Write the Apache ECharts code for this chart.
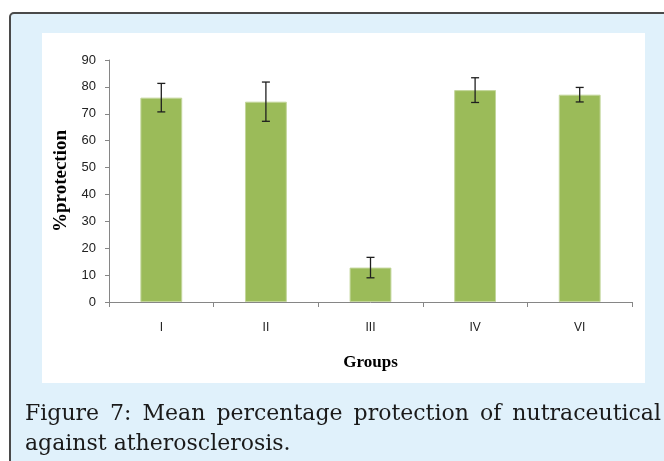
<!DOCTYPE html>
<html>
<head>
<meta charset="utf-8">
<script src="https://cdn.jsdelivr.net/npm/echarts@6/dist/echarts.min.js"></script>
<style>
  html, body { margin: 0; padding: 0; background: #ffffff; }
  #chart { width: 664px; height: 461px; }
</style>
</head>
<body>
<div id="chart"></div>
<script>
// Groups and mean % protection with error-bar half-widths
const groups = ['I', 'II', 'III', 'IV', 'VI'];
const meanProtection = [76.0, 74.5, 12.8, 78.8, 77.1];
const errorHalf = [5.3, 7.3, 3.8, 4.6, 2.7];
const yTicks = { min: 0, max: 90, interval: 10 };

const captionLine1 = 'Figure 7: Mean percentage protection of nutraceutical';
const captionLine2 = 'against atherosclerosis.';

const captionFont = '22px "DejaVu Serif"';
const measureCtx = document.createElement('canvas').getContext('2d');
measureCtx.font = captionFont;

// Lay out a justified line as separate words spread between two x edges
function justifiedWords(line, x0, x1, y) {
  const words = line.split(' ');
  const widths = words.map(w => measureCtx.measureText(w).width);
  const total = widths.reduce((a, b) => a + b, 0);
  const gap = (x1 - x0 - total) / (words.length - 1);
  let x = x0;
  return words.map((w, i) => {
    const el = {
      type: 'text', x: x, y: y,
      style: { text: w, font: captionFont, fill: '#1a1a1a', verticalAlign: 'top' }
    };
    x += widths[i] + gap;
    return el;
  });
}

const chart = echarts.init(document.getElementById('chart'), null, { renderer: 'canvas' });

const errorData = groups.map((g, i) => [i, meanProtection[i] - errorHalf[i], meanProtection[i] + errorHalf[i]]);

chart.setOption({
  animation: false,
  graphic: [
    {
      type: 'rect', z: -10, silent: true,
      shape: { x: 10, y: 13, width: 680, height: 470, r: 4 },
      style: { fill: '#e0f1fb', stroke: '#4a4a4a', lineWidth: 2 }
    },
    {
      type: 'rect', z: -9, silent: true,
      shape: { x: 42, y: 33, width: 603, height: 350 },
      style: { fill: '#ffffff' }
    },
    ...justifiedWords(captionLine1, 25, 661, 403),
    {
      type: 'text', x: 25, y: 433,
      style: { text: captionLine2, font: captionFont, fill: '#1a1a1a', verticalAlign: 'top' }
    }
  ],
  grid: { left: 109, right: 32, top: 60, bottom: 159 },
  xAxis: {
    type: 'category',
    data: groups,
    name: 'Groups',
    nameLocation: 'middle',
    nameGap: 52,
    nameTextStyle: { fontFamily: 'Liberation Serif', fontWeight: 'bold', fontSize: 17, color: '#000' },
    axisLine: { lineStyle: { color: '#868686', width: 1 } },
    axisTick: { show: true, length: 5, lineStyle: { color: '#868686' } },
    axisLabel: { fontFamily: 'Liberation Sans', fontSize: 12, color: '#222', margin: 20 }
  },
  yAxis: {
    type: 'value',
    min: yTicks.min, max: yTicks.max, interval: yTicks.interval,
    name: '%protection',
    nameLocation: 'middle',
    nameGap: 38,
    nameRotate: 90,
    nameTextStyle: { fontFamily: 'Liberation Serif', fontWeight: 'bold', fontSize: 19, color: '#000' },
    axisLine: { show: true, lineStyle: { color: '#868686', width: 1 } },
    axisTick: { show: true, length: 4, lineStyle: { color: '#868686' } },
    splitLine: { show: false },
    axisLabel: { fontFamily: 'Liberation Sans', fontSize: 13, color: '#222', margin: 13 }
  },
  series: [
    {
      type: 'bar',
      data: meanProtection,
      barWidth: '40%',
      itemStyle: { color: '#9bbb59', borderColor: '#c3d69b', borderWidth: 1 }
    },
    {
      type: 'custom',
      data: errorData,
      z: 10,
      renderItem: function (params, api) {
        const x = api.value(0);
        const lo = api.coord([x, api.value(1)]);
        const hi = api.coord([x, api.value(2)]);
        const half = 4;
        const style = { stroke: '#1f1f1f', lineWidth: 1.3 };
        return {
          type: 'group',
          children: [
            { type: 'line', shape: { x1: lo[0], y1: lo[1], x2: hi[0], y2: hi[1] }, style: style },
            { type: 'line', shape: { x1: lo[0] - half, y1: lo[1], x2: lo[0] + half, y2: lo[1] }, style: style },
            { type: 'line', shape: { x1: hi[0] - half, y1: hi[1], x2: hi[0] + half, y2: hi[1] }, style: style }
          ]
        };
      }
    }
  ]
});
</script>
</body>
</html>
